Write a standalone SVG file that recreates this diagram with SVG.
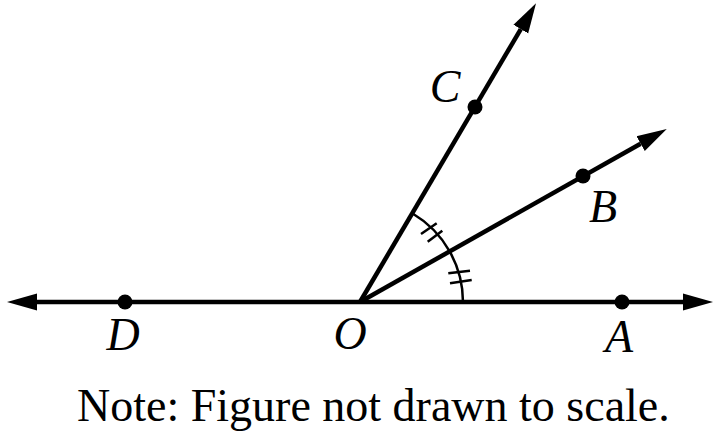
<svg xmlns="http://www.w3.org/2000/svg" width="725" height="438" viewBox="0 0 725 438">
<style>
.ray{stroke:#000;stroke-width:4.5;fill:none;stroke-linecap:butt}
.arc{stroke:#000;stroke-width:2.5;fill:none}
.tick{stroke:#000;stroke-width:2.5}
.dot{fill:#000}
.lbl{font-family:"Liberation Serif","Times New Roman",serif;font-style:italic;font-size:46px;fill:#000;text-anchor:middle}
.note{font-family:"Liberation Serif","Times New Roman",serif;font-size:46px;fill:#000}
</style>
<defs>
<marker id="ah" markerUnits="userSpaceOnUse" markerWidth="32" markerHeight="20" viewBox="0 -10 32 20" refX="0" refY="0" orient="auto-start-reverse">
<path d="M0,-8.5 L30,0 L0,8.5 z" fill="#000"/>
</marker>
</defs>
<g id="connectors">
<path id="line-DA" class="ray" d="M37,302 L683,302" marker-start="url(#ah)" marker-end="url(#ah)"/>
<path id="ray-OC" class="ray" d="M360,302 L520.8,29.1" marker-end="url(#ah)"/>
<path id="ray-OB" class="ray" d="M360,302 L640.6,143.7" marker-end="url(#ah)"/>
<path id="arc" class="arc" d="M412.6,213.5 A103,103 0 0 1 463,302"/>
<g id="ticks">
<line class="tick" x1="421" y1="234" x2="436.7" y2="223.3"/>
<line class="tick" x1="427.7" y1="241.7" x2="442.3" y2="230.7"/>
<line class="tick" x1="448.3" y1="273.3" x2="470" y2="270.7"/>
<line class="tick" x1="450" y1="283.3" x2="471.7" y2="280"/>
</g>
</g>
<g id="node-D"><circle class="dot" cx="125" cy="302" r="7.5"/><text class="lbl" x="123" y="350">D</text></g>
<g id="node-O"><text class="lbl" x="350" y="349">O</text></g>
<g id="node-A"><circle class="dot" cx="622" cy="302" r="7.5"/><text class="lbl" x="619" y="352">A</text></g>
<g id="node-C"><circle class="dot" cx="475" cy="107" r="7.5"/><text class="lbl" x="445" y="102">C</text></g>
<g id="node-B"><circle class="dot" cx="583" cy="176" r="7.5"/><text class="lbl" x="603" y="222">B</text></g>
<text class="note" x="77" y="421">Note: Figure not drawn to scale.</text>
</svg>
